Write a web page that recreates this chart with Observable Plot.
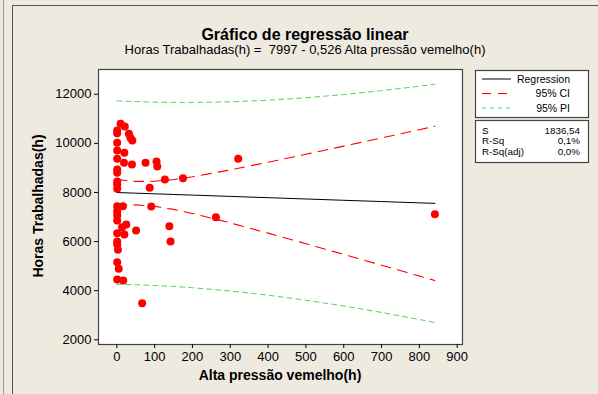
<!DOCTYPE html>
<html>
<head>
<meta charset="utf-8">
<script src="https://cdn.jsdelivr.net/npm/d3@7"></script>
<script src="https://cdn.jsdelivr.net/npm/@observablehq/plot@0.6"></script>
<style>
  html, body { margin: 0; padding: 0; }
  body { width: 598px; height: 394px; overflow: hidden; }
  #wrap { position: relative; width: 598px; height: 394px; background: #EEEAE0; font-family: "Liberation Sans", Arial, sans-serif; color: #000; }
  .abs { position: absolute; white-space: nowrap; }
  #chart { position: absolute; left: 0; top: 0; }
</style>
</head>
<body>
<div id="wrap">
  <div class="abs" style="left:3px;top:0;width:1px;height:394px;background:#9a9a9a"></div>
  <div class="abs" style="left:12px;top:5px;width:586px;height:389px;border-left:1px solid #555;border-top:1px solid #555;box-sizing:border-box"></div>
  <div id="chart"></div>
  <div class="abs" id="title" style="left:0;width:610px;top:26px;text-align:center;font-weight:bold;font-size:16px">Gráfico de regressão linear</div>
  <div class="abs" id="subtitle" style="left:0;width:610px;top:42px;text-align:center;font-size:13px">Horas Trabalhadas(h) =&nbsp; 7997 - 0,526 Alta pressão vemelho(h)</div>
  <div class="abs" style="left:98px;width:364px;top:367px;text-align:center;font-weight:bold;font-size:14px">Alta pressão vemelho(h)</div>
  <div class="abs" style="left:38px;top:206px;transform:translate(-50%,-50%) rotate(-90deg);font-weight:bold;font-size:14px">Horas Trabalhadas(h)</div>
  <div id="legend"></div>
</div>
<script>
// observed points: Alta pressão vemelho(h) vs Horas Trabalhadas(h)
const pointX = [10, 21, 1, 1, 32, 36, 41, 1, 1, 20, 1, 19, 40, 76, 105, 107, 1, 1, 1, 1, 1, 87, 127, 175, 321,
                1, 16, 91, 1, 1, 1, 25, 14, 51, 139, 1, 20, 142, 1, 1, 3, 1, 5, 1, 17, 67, 262, 841];
const pointY = [10795, 10685, 10522, 10412, 10388, 10225, 10115, 10021, 9707, 9614, 9369, 9207, 9137, 9207, 9260, 9056, 8934, 8799, 8445, 8323, 8148, 8189, 8527, 8580, 9369,
                7439, 7439, 7427, 7236, 7061, 6857, 6694, 6584, 6450, 6625, 6340, 6287, 6002, 6002, 5880, 5664, 5159, 4890, 4455, 4414, 3490, 6991, 7114];

// fitted line and bands
const fitX   = [0, 50, 100, 150, 200, 300, 400, 500, 600, 700, 800, 841];
const regY   = [7997, 7971, 7944, 7918, 7892, 7839, 7787, 7734, 7681, 7629, 7576, 7555];
const ciUp   = [8522, 8449, 8454, 8526, 8638, 8918, 9231, 9555, 9885, 10220, 10556, 10695];
const ciLow  = [7472, 7493, 7434, 7310, 7146, 6760, 6343, 5913, 5477, 5038, 4596, 4415];
const piUp   = [11731, 11699, 11676, 11665, 11664, 11690, 11756, 11855, 11985, 12144, 12325, 12405];
const piLow  = [4263, 4243, 4212, 4171, 4120, 3988, 3818, 3613, 3377, 3114, 2827, 2705];

const xTicks = [0, 100, 200, 300, 400, 500, 600, 700, 800, 900];
const yTicks = [2000, 4000, 6000, 8000, 10000, 12000];

const legendLabels = ["Regression", "95% CI", "95% PI"];
const statLabels = ["S", "R-Sq", "R-Sq(adj)"];
const statValues = ["1836,54", "0,1%", "0,0%"];

const points = pointX.map((x, i) => ({x, y: pointY[i]}));
const fit = fitX.map((x, i) => ({x, reg: regY[i], ciU: ciUp[i], ciL: ciLow[i], piU: piUp[i], piL: piLow[i]}));

const red = "#FF0000", green = "#5FCF5F";

const chart = Plot.plot({
  width: 598,
  height: 394,
  marginLeft: 98,
  marginRight: 136,
  marginTop: 69,
  marginBottom: 50,
  style: {fontFamily: "Liberation Sans, Arial, sans-serif", fontSize: "13px", background: "transparent", color: "#000", overflow: "visible"},
  x: {domain: [-48.4, 914]},
  y: {domain: [1809, 13006]},
  marks: [
    Plot.frame({fill: "white", stroke: null}),
    Plot.line(fit, {x: "x", y: "piU", stroke: green, strokeWidth: 1, strokeDasharray: "5,4"}),
    Plot.line(fit, {x: "x", y: "piL", stroke: green, strokeWidth: 1, strokeDasharray: "5,4"}),
    Plot.line(fit, {x: "x", y: "ciU", stroke: red, strokeWidth: 1.1, strokeDasharray: "10,7"}),
    Plot.line(fit, {x: "x", y: "ciL", stroke: red, strokeWidth: 1.1, strokeDasharray: "10,7"}),
    Plot.line(fit, {x: "x", y: "reg", stroke: "#000", strokeWidth: 1}),
    Plot.dot(points, {x: "x", y: "y", r: 4, fill: red, stroke: null}),
    Plot.frame({stroke: "#444", strokeWidth: 1.2}),
    Plot.axisX({ticks: xTicks, tickSize: 4, tickPadding: 3, label: null, tickFormat: d => String(d)}),
    Plot.axisY({ticks: yTicks, tickSize: 4, tickPadding: 3, label: null, tickFormat: d => String(d)})
  ]
});
document.getElementById("chart").appendChild(chart);

// legend boxes
const leg = d3.select("#legend");
const svg = leg.append("svg").attr("width", 598).attr("height", 394)
  .style("position", "absolute").style("left", 0).style("top", 0)
  .style("font-family", "Liberation Sans, Arial, sans-serif").style("font-size", "10.5px");
svg.append("rect").attr("x", 475.5).attr("y", 70.5).attr("width", 113).attr("height", 47)
  .attr("fill", "white").attr("stroke", "#444").attr("stroke-width", 1.2);
svg.append("rect").attr("x", 475.5).attr("y", 120.5).attr("width", 113).attr("height", 42)
  .attr("fill", "white").attr("stroke", "#444").attr("stroke-width", 1.2);
const legStyles = [
  {stroke: "#000", dash: null},
  {stroke: red, dash: "9,7"},
  {stroke: green, dash: "4,4"}
];
const rowY = [79, 93.5, 108];
legendLabels.forEach((t, i) => {
  svg.append("line").attr("x1", 482).attr("x2", 511).attr("y1", rowY[i]).attr("y2", rowY[i])
    .attr("stroke", legStyles[i].stroke).attr("stroke-width", 1)
    .attr("stroke-dasharray", legStyles[i].dash);
  svg.append("text").attr("x", 570).attr("y", rowY[i]).attr("dy", "0.35em")
    .attr("text-anchor", "end").text(t);
});
const statY = [130.6, 141, 151.4];
statLabels.forEach((t, i) => {
  svg.append("text").attr("x", 482).attr("y", statY[i]).attr("dy", "0.35em")
    .style("font-size", "9.8px").text(t);
  svg.append("text").attr("x", 580).attr("y", statY[i]).attr("dy", "0.35em")
    .style("font-size", "9.8px").attr("text-anchor", "end").text(statValues[i]);
});
</script>
</body>
</html>
